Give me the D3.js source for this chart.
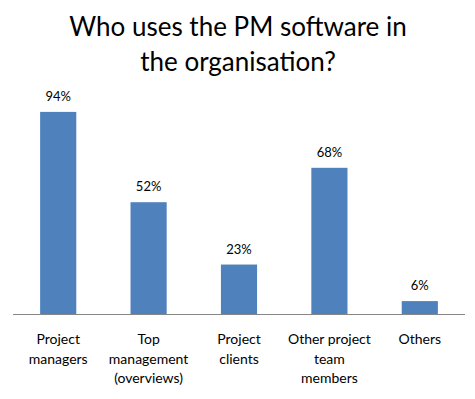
<!DOCTYPE html>
<html>
<head>
<meta charset="UTF-8">
<title>Who uses the PM software in the organisation?</title>
<script src="https://cdnjs.cloudflare.com/ajax/libs/d3/7.8.5/d3.min.js"></script>
<style>
  body { margin: 0; background: #fff; }
  text { font-family: Lato, "Open Sans", sans-serif; fill: #000; }
</style>
</head>
<body>
<script>
// chart data
var categories = ["Project managers", "Top management (overviews)", "Project clients", "Other project team members", "Others"];
var labelLines = [["Project", "managers"], ["Top", "management", "(overviews)"], ["Project", "clients"], ["Other project", "team", "members"], ["Others"]];
var values = [94, 52, 23, 68, 6];
var titleLines = ["Who uses the PM software in", "the organisation?"];

var W = 475, H = 399;
var plot = {left: 13, right: 465, top: 99, bottom: 314};

var svg = d3.select("body").append("svg")
    .attr("width", W)
    .attr("height", H);

// title
svg.append("g").selectAll("text")
    .data(titleLines)
    .enter().append("text")
    .attr("x", 238)
    .attr("y", function(d, i) { return 36 + i * 35; })
    .attr("text-anchor", "middle")
    .style("font-size", "26px")
    .text(function(d) { return d; });

var x = d3.scaleBand().domain(categories).range([plot.left, plot.right]).padding(0);
var y = d3.scaleLinear().domain([0, 100]).range([plot.bottom, plot.top]);
var barW = x.bandwidth() * 0.4;

// bars
svg.selectAll("rect.bar")
    .data(values)
    .enter().append("rect")
    .attr("class", "bar")
    .attr("x", function(d, i) { return x(categories[i]) + (x.bandwidth() - barW) / 2; })
    .attr("width", barW)
    .attr("y", function(d) { return y(d); })
    .attr("height", function(d) { return y(0) - y(d); })
    .attr("fill", "#4F81BD");

// value labels
svg.selectAll("text.val")
    .data(values)
    .enter().append("text")
    .attr("class", "val")
    .attr("x", function(d, i) { return x(categories[i]) + x.bandwidth() / 2; })
    .attr("y", function(d) { return y(d) - 11; })
    .attr("text-anchor", "middle")
    .style("font-size", "13px")
    .text(function(d) { return d + "%"; });

// axis line
svg.append("line")
    .attr("x1", plot.left).attr("x2", plot.right)
    .attr("y1", y(0) + 0.5).attr("y2", y(0) + 0.5)
    .attr("stroke", "#868686")
    .attr("stroke-width", 1);

// category labels
var cat = svg.selectAll("text.cat")
    .data(categories)
    .enter().append("text")
    .attr("class", "cat")
    .attr("text-anchor", "middle")
    .style("font-size", "14px");

cat.each(function(d, i) {
    var cx = x(d) + x.bandwidth() / 2;
    d3.select(this).selectAll("tspan")
        .data(labelLines[i])
        .enter().append("tspan")
        .attr("x", cx)
        .attr("y", function(t, j) { return 344 + j * 19.5; })
        .text(function(t) { return t; });
});
</script>
</body>
</html>
